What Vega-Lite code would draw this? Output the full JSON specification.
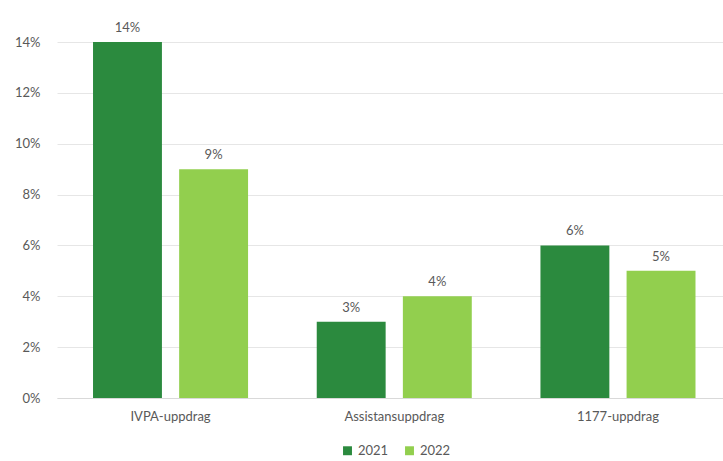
{
  "$schema": "https://vega.github.io/schema/vega-lite/v6.json",
  "autosize": "none",
  "width": 666,
  "height": 356,
  "padding": {"left": 57, "top": 42, "right": 0, "bottom": 63},
  "background": "white",
  "config": {
    "view": {"stroke": null},
    "font": "Lato"
  },
  "data": {
    "values": [
      {"uppdrag": "IVPA-uppdrag", "year": "2021", "value": 0.14},
      {"uppdrag": "IVPA-uppdrag", "year": "2022", "value": 0.09},
      {"uppdrag": "Assistansuppdrag", "year": "2021", "value": 0.03},
      {"uppdrag": "Assistansuppdrag", "year": "2022", "value": 0.04},
      {"uppdrag": "1177-uppdrag", "year": "2021", "value": 0.06},
      {"uppdrag": "1177-uppdrag", "year": "2022", "value": 0.05}
    ]
  },
  "encoding": {
    "x": {
      "field": "uppdrag",
      "type": "nominal",
      "sort": ["IVPA-uppdrag", "Assistansuppdrag", "1177-uppdrag"],
      "scale": {"paddingInner": 0.307, "paddingOuter": 0.142, "align": 0.567},
      "axis": {
        "title": null,
        "labelAngle": 0,
        "ticks": false,
        "domain": true,
        "domainColor": "#d9d9d9",
        "labelColor": "#595959",
        "labelFontSize": 13,
        "labelPadding": 12
      }
    },
    "xOffset": {"field": "year", "type": "nominal", "scale": {"paddingInner": 0.2}},
    "y": {
      "field": "value",
      "type": "quantitative",
      "scale": {"domain": [0, 0.14]},
      "axis": {
        "title": null,
        "format": ".0%",
        "values": [0, 0.02, 0.04, 0.06, 0.08, 0.1, 0.12, 0.14],
        "domain": false,
        "ticks": false,
        "gridColor": "#e6e6e6",
        "labelColor": "#595959",
        "labelFontSize": 13,
        "labelPadding": 17
      }
    }
  },
  "layer": [
    {
      "mark": {"type": "bar"},
      "encoding": {
        "color": {
          "field": "year",
          "type": "nominal",
          "scale": {"domain": ["2021", "2022"], "range": ["#2b8a3e", "#92cf4e"]},
          "legend": {
            "title": null,
            "orient": "none",
            "legendX": 284,
            "legendY": 402,
            "direction": "horizontal",
            "symbolType": "square",
            "symbolSize": 80,
            "symbolStrokeWidth": 0,
            "labelColor": "#595959",
            "labelFontSize": 13,
            "columnPadding": 14
          }
        }
      }
    },
    {
      "mark": {"type": "text", "dy": -14, "fontSize": 13, "color": "#595959"},
      "encoding": {
        "text": {"field": "value", "type": "quantitative", "format": ".0%"}
      }
    }
  ]
}
